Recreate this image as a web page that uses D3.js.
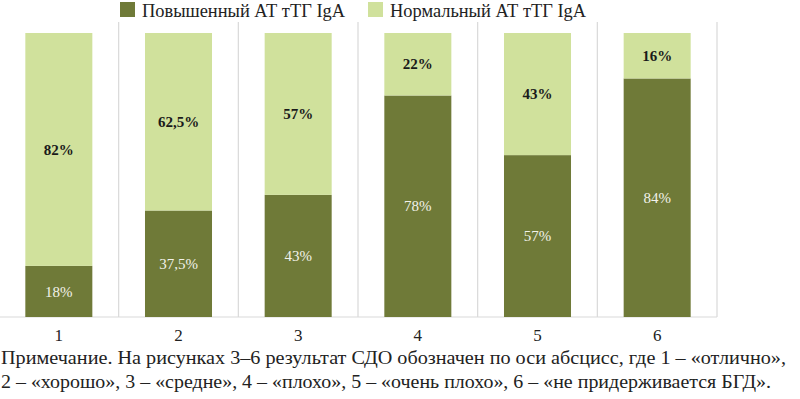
<!DOCTYPE html>
<html>
<head>
<meta charset="utf-8">
<script src="https://cdn.jsdelivr.net/npm/d3@7"></script>
<style>
  body { margin: 0; background: #fff; }
  svg text { font-family: "Liberation Serif", "DejaVu Serif", "Times New Roman", serif; }
</style>
</head>
<body>
<svg id="chart" width="800" height="399"></svg>
<script>
// data
var categories = ["1", "2", "3", "4", "5", "6"];
var elevated = [18, 37.5, 43, 78, 57, 84];
var normal = [82, 62.5, 57, 22, 43, 16];
var elevatedLabels = ["18%", "37,5%", "43%", "78%", "57%", "84%"];
var normalLabels = ["82%", "62,5%", "57%", "22%", "43%", "16%"];
var seriesNames = ["Повышенный АТ тТГ IgA", "Нормальный АТ тТГ IgA"];
var noteLines = [
  "Примечание. На рисунках 3–6 результат СДО обозначен по оси абсцисс, где 1 – «отлично»,",
  "2 – «хорошо», 3 – «средне», 4 – «плохо», 5 – «очень плохо», 6 – «не придерживается БГД»."
];

var colors = ["#6f7a38", "#d0e19c"];
var serif = "'Liberation Serif', 'DejaVu Serif', 'Times New Roman', serif";

var svg = d3.select("#chart");

var x = d3.scaleBand()
  .domain(categories)
  .range([-1, 717])
  .paddingInner(0.44)
  .paddingOuter(0.22);

var y = d3.scaleLinear().domain([0, 100]).range([317, 33]);

var rows = categories.map(function (c, i) {
  return { cat: c, elevated: elevated[i], normal: normal[i], i: i };
});
var stack = d3.stack().keys(["elevated", "normal"])(rows);

// vertical grid lines between categories
var bounds = categories.map(function (c) { return x(c) - x.step() * x.paddingOuter(); });
bounds.push(bounds[bounds.length - 1] + x.step());
svg.append("g").selectAll("line")
  .data(bounds)
  .enter().append("line")
  .attr("x1", function (d) { return d; })
  .attr("x2", function (d) { return d; })
  .attr("y1", 22).attr("y2", y(0))
  .attr("stroke", "#d9d9d9").attr("stroke-width", 1.2);

// baseline
svg.append("line")
  .attr("x1", bounds[0]).attr("x2", bounds[bounds.length - 1])
  .attr("y1", y(0)).attr("y2", y(0))
  .attr("stroke", "#d9d9d9").attr("stroke-width", 1.2);

var layers = svg.append("g").selectAll("g")
  .data(stack)
  .enter().append("g")
  .attr("fill", function (d, i) { return colors[i]; });

layers.selectAll("rect")
  .data(function (d) { return d; })
  .enter().append("rect")
  .attr("x", function (d) { return x(d.data.cat); })
  .attr("width", x.bandwidth())
  .attr("y", function (d) { return y(d[1]); })
  .attr("height", function (d) { return y(d[0]) - y(d[1]); });

// value labels
layers.each(function (layer, li) {
  d3.select(this.parentNode).append("g").selectAll("text")
    .data(layer)
    .enter().append("text")
    .attr("x", function (d) { return x(d.data.cat) + x.bandwidth() / 2; })
    .attr("y", function (d) { return (y(d[0]) + y(d[1])) / 2; })
    .attr("dy", "0.35em")
    .attr("text-anchor", "middle")
    .attr("font-family", serif)
    .attr("font-size", 15)
    .attr("font-weight", li === 1 ? "bold" : "normal")
    .attr("fill", li === 1 ? "#1a1a1a" : "#f2f2ea")
    .text(function (d) { return li === 1 ? normalLabels[d.data.i] : elevatedLabels[d.data.i]; });
});

// x axis labels
svg.append("g").selectAll("text")
  .data(categories)
  .enter().append("text")
  .attr("x", function (d) { return x(d) + x.bandwidth() / 2; })
  .attr("y", 341)
  .attr("text-anchor", "middle")
  .attr("font-family", serif)
  .attr("font-size", 17)
  .attr("fill", "#222")
  .text(function (d) { return d; });

// legend
var legendX = [120, 368];
var legend = svg.append("g").selectAll("g")
  .data(seriesNames)
  .enter().append("g")
  .attr("transform", function (d, i) { return "translate(" + legendX[i] + ",2)"; });
legend.append("rect")
  .attr("width", 15).attr("height", 15)
  .attr("fill", function (d, i) { return colors[i]; });
legend.append("text")
  .attr("x", 22).attr("y", 15)
  .attr("font-family", serif)
  .attr("font-size", 19)
  .attr("fill", "#222")
  .attr("textLength", function (d, i) { return i === 0 ? 203 : 196; })
  .attr("lengthAdjust", "spacingAndGlyphs")
  .text(function (d) { return d; });

// note
svg.append("g").selectAll("text")
  .data(noteLines)
  .enter().append("text")
  .attr("x", 1)
  .attr("y", function (d, i) { return 364 + i * 24; })
  .attr("font-family", serif)
  .attr("font-size", 19)
  .attr("fill", "#222")
  .attr("textLength", function (d, i) { return i === 0 ? 785 : 770; })
  .attr("lengthAdjust", "spacingAndGlyphs")
  .text(function (d) { return d; });
</script>
</body>
</html>
